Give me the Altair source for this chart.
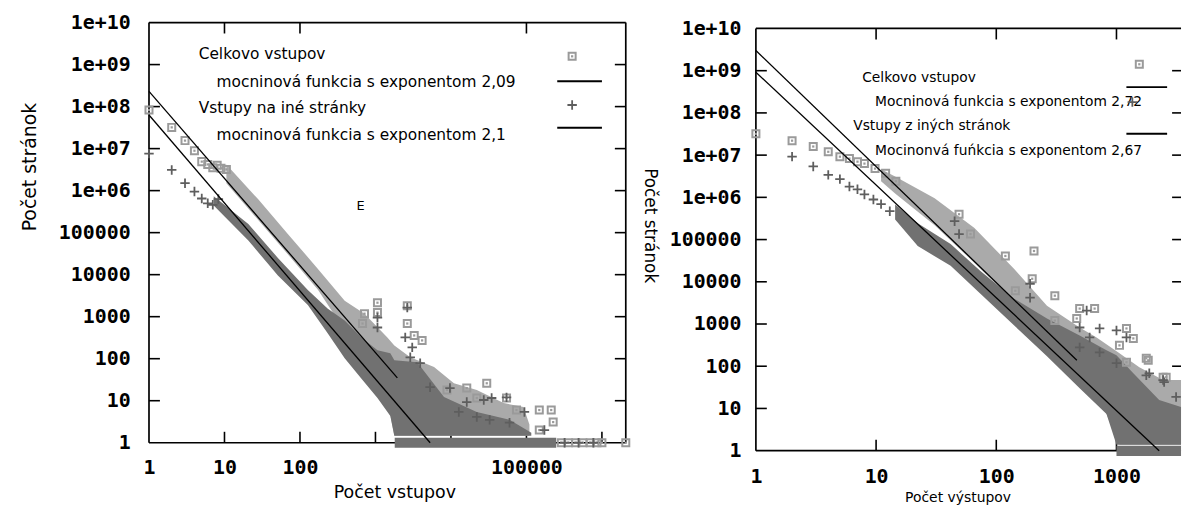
import altair as alt
import pandas as pd

SANS = "DejaVu Sans"
MONO = "DejaVu Sans Mono"
LIGHT_FILL = "#aaaaaa"
DARK_FILL = "#717171"
SQ_COL = "#9a9a9a"
PLUS_COL = "#5e5e5e"
PLUS = "M-1,0L1,0M0,-1L0,1"

y_decades = [1, 10, 100, 1000, 10000, 100000, 1e6, 1e7, 1e8, 1e9, 1e10]
inner_decades = y_decades[1:-1]

# ================= LEFT PANEL DATA =================
L_W, L_H = 480, 423
L_XMAX = 2.07e6
L_YTOP = 1e10
l_xlabels = [1, 10, 100, 100000]
l_xticks_bottom = [10, 100, 1000, 10000, 100000, 1000000]
l_xticks_top = [10, 100, 100000]

l_tot_x = [1, 2, 3, 4, 5, 6, 7, 8, 9, 10.6]
l_tot_y = [8.3e7, 3.2e7, 1.55e7, 8.9e6, 4.9e6, 4.2e6, 3.5e6, 4.0e6, 3.4e6, 3.2e6]
l_in_x = [1, 2, 3, 4, 5, 6, 7, 8.3]
l_in_y = [7.6e6, 3.1e6, 1.5e6, 9.5e5, 6.5e5, 5.0e5, 4.6e5, 6.3e5]

l_tot_band_x = [10.6, 28, 69.5, 173, 391, 716, 1438, 1778, 2890, 5970, 10950, 22000, 49800, 91400, 109500]
l_tot_band_top = [4.16e6, 6.2e5, 9.2e4, 1.37e4, 2400, 1180, 321, 207, 108, 63, 26, 18, 8.8, 7.1, 2.7]
l_tot_band_bot = [1.5e6, 2.0e5, 3.0e4, 4400, 469, 92, 10.4, 1.46, 1.46, 1.46, 1.46, 1.46, 1.46, 1.46, 1.46]

l_in_band_x = [7.2, 20.7, 51, 127, 234, 391, 674, 1063, 1575, 1778, 3570, 8090, 21980, 59700, 116000]
l_in_band_top = [7.3e5, 1.6e5, 2.5e4, 4300, 1550, 809, 304, 158, 134, 92, 82, 12.2, 5.4, 3.5, 1.72]
l_in_band_bot = [4.4e5, 6.5e4, 9500, 1900, 398, 102, 31, 11.6, 4.35, 1.46, 1.46, 1.46, 1.46, 1.46, 1.46]

l_row_x0, l_row_x1 = 1800, 2.48e5
l_row_y0, l_row_y1 = 0.76, 1.31
l_row_sq_x = [2.9e5, 3.6e5, 4.5e5, 5.6e5, 7.0e5, 8.6e5, 1.0e6, 2.07e6]
l_row_plus_x = [3.2e5, 4.9e5, 7.7e5]

l_tail_sq_x = [1063, 1063, 716, 674, 2640, 2640, 3260, 4150, 16200, 29800, 148000, 213000, 226000, 148000, 73800, 54500, 8860, 22000]
l_tail_sq_y = [2150, 1250, 1180, 687, 1830, 687, 357, 272, 20, 26, 6, 6, 3.1, 2, 6, 11.6, 18, 11.6]
l_tail_plus_x = [1063, 1063, 2640, 2480, 3070, 2890, 3910, 5290, 9700, 12700, 16200, 27200, 34600, 54500, 94100, 173000, 22000, 32600, 59700]
l_tail_plus_y = [952, 552, 1640, 321, 186, 108, 78, 21, 20, 5.4, 9.3, 10.4, 11.6, 12, 5.4, 2, 4.1, 3.5, 3]

l_fit1_x, l_fit1_y = [1, 1950], [2.3e8, 35]
l_fit2_x, l_fit2_y = [1, 5300], [6.3e7, 1]

l_legend = ["Celkovo vstupov", "mocninová funkcia s exponentom 2,09",
            "Vstupy na iné stránky", "mocninová funkcia s exponentom 2,1"]

# ================= RIGHT PANEL DATA =================
R_W, R_H = 428, 431
R_XMAX = 3444
R_YMAX = 1.38e10
r_xlabels = [1, 10, 100, 1000]
r_xticks = [10, 100, 1000]

r_tot_x = [1, 2, 3, 4, 5, 6, 7, 8, 9.8, 12, 14.6]
r_tot_y = [3.2e7, 2.2e7, 1.6e7, 1.2e7, 9.2e6, 8.3e6, 7.0e6, 6.3e6, 4.8e6, 3.7e6, 2.4e6]
r_in_x = [2, 3, 4, 5, 6, 7, 8, 9.5, 11, 13]
r_in_y = [9.2e6, 5.4e6, 3.4e6, 2.7e6, 1.8e6, 1.55e6, 1.17e6, 8.9e5, 6.9e5, 4.7e5]

r_tot_band_x = [11, 14.4, 30.7, 65.8, 141, 264, 494, 683, 1059, 1549, 2445, 3444]
r_tot_band_top = [4.6e6, 3.1e6, 9.5e5, 1.87e5, 2.02e4, 2720, 827, 481, 202, 95, 47, 47]
r_tot_band_bot = [2.4e6, 1.24e6, 2.19e5, 2.8e4, 3380, 409, 80, 27, 1.38, 1.38, 1.38, 1.38]

r_in_band_x = [14.4, 22.2, 41.7, 73.8, 141, 264, 494, 826, 1000, 1381, 2266, 3444]
r_in_band_top = [6.8e5, 2.45e5, 7.8e4, 1.8e4, 3980, 1350, 536, 238, 182, 68, 15.8, 10.8]
r_in_band_bot = [3.0e5, 7.0e4, 2.4e4, 5200, 920, 172, 30, 7.4, 1.38, 1.38, 1.38, 1.38]

r_row_x0, r_row_x1 = 1000, 3444
r_row_y0, r_row_y1 = 0.75, 1.3

r_tail_sq_x = [49, 61, 119, 144, 206, 199, 307, 307, 494, 658, 467, 1211, 1059, 1381, 1211, 1837, 2590, 1770, 2445]
r_tail_sq_y = [3.98e5, 1.35e5, 4.09e4, 6140, 5.36e4, 1.18e4, 4690, 1210, 2320, 2320, 1350, 784, 312, 456, 124, 138, 55, 154, 55]
r_tail_plus_x = [45, 49, 191, 191, 565, 494, 598, 724, 1000, 1211, 1000, 1770, 2492, 3133, 494, 724, 1875, 2445]
r_tail_plus_y = [2.72e5, 1.35e5, 8980, 4200, 2080, 827, 481, 784, 703, 481, 118, 61, 42, 18.7, 280, 213, 68, 47]

r_fit1_x, r_fit1_y = [1, 468], [3.0e9, 138]
r_fit2_x, r_fit2_y = [1, 2266], [9.2e8, 1]

r_legend = ["Celkovo vstupov", "Mocninová funkcia s exponentom 2,72",
            "Vstupy z iných stránok", "Mocinonvá fuńkcia s exponentom 2,67"]

ONE = pd.DataFrame({"a": [0]})
Y_LABEL_EXPR = ("datum.value >= 1000000 ? '1e+' + (datum.value < 5e9 ? '0' : '') + "
                "round(log(datum.value) / LN10) : format(datum.value, 'd')")
SQ_SIZE = 50


class Panel:
    def __init__(self, xsc, ysc, xa, ya):
        self.xsc, self.ysc, self.xa, self.ya = xsc, ysc, xa, ya

    def X(self, f):
        return alt.X(f"{f}:Q", scale=self.xsc, axis=self.xa)

    def Y(self, f):
        return alt.Y(f"{f}:Q", scale=self.ysc, axis=self.ya)

    def border(self, xmax, ytop, right):
        rows = [dict(x=1, x2=xmax, y=1, y2=1), dict(x=1, x2=xmax, y=ytop, y2=ytop),
                dict(x=1, x2=1, y=1, y2=ytop)]
        if right:
            rows.append(dict(x=xmax, x2=xmax, y=1, y2=ytop))
        return alt.Chart(pd.DataFrame(rows)).mark_rule(color="black", strokeWidth=1.7).encode(
            x=self.X("x"), x2="x2:Q", y=self.Y("y"), y2="y2:Q")

    def vticks(self, vals, y0, y1):
        return alt.Chart(pd.DataFrame({"x": vals})).mark_rule(color="black", strokeWidth=1.6).encode(
            x=self.X("x"), y=alt.value(y0), y2=alt.value(y1))

    def hticks(self, vals, x0, x1):
        return alt.Chart(pd.DataFrame({"y": vals})).mark_rule(color="black", strokeWidth=1.6).encode(
            y=self.Y("y"), x=alt.value(x0), x2=alt.value(x1))

    def squares(self, xs, ys):
        df = pd.DataFrame({"x": xs, "y": ys})
        box = alt.Chart(df).mark_point(shape="square", filled=False, color=SQ_COL, strokeWidth=2,
                                       size=SQ_SIZE, opacity=1).encode(x=self.X("x"), y=self.Y("y"))
        dot = alt.Chart(df).mark_point(shape="square", filled=True, color=SQ_COL, size=5,
                                       opacity=1).encode(x=self.X("x"), y=self.Y("y"))
        return [box, dot]

    def pluses(self, xs, ys):
        df = pd.DataFrame({"x": xs, "y": ys})
        return alt.Chart(df).mark_point(shape=PLUS, filled=False, color=PLUS_COL, strokeWidth=1.8,
                                        size=90, opacity=1).encode(x=self.X("x"), y=self.Y("y"))

    def band(self, xs, top, bot, color):
        df = pd.DataFrame({"x": xs, "top": top, "bot": bot})
        return alt.Chart(df).mark_area(color=color, opacity=1).encode(
            x=self.X("x"), y=self.Y("top"), y2="bot:Q")

    def row_rect(self, x0, x1, y0, y1):
        df = pd.DataFrame({"x0": [x0], "x1": [x1], "y0": [y0], "y1": [y1]})
        return alt.Chart(df).mark_rect(color=DARK_FILL).encode(
            x=self.X("x0"), x2="x1:Q", y=self.Y("y0"), y2="y1:Q")

    def fit_line(self, xs, ys):
        df = pd.DataFrame({"x": xs, "y": ys})
        return alt.Chart(df).mark_line(color="black", strokeWidth=1.3).encode(
            x=self.X("x"), y=self.Y("y"))


def legend(labels, tx, ty, fs, sq, ln1, pl, ln2):
    out = []
    for s, x, y in zip(labels, tx, ty):
        out.append(alt.Chart(pd.DataFrame({"t": [s]})).mark_text(
            align="left", baseline="alphabetic", font=SANS, fontSize=fs, color="black").encode(
            x=alt.value(x), y=alt.value(y), text="t:N"))
    out.append(alt.Chart(ONE).mark_point(shape="square", filled=False, color=SQ_COL, strokeWidth=2,
                                         size=SQ_SIZE, opacity=1).encode(x=alt.value(sq[0]), y=alt.value(sq[1])))
    out.append(alt.Chart(ONE).mark_point(shape="square", filled=True, color=SQ_COL, size=5,
                                         opacity=1).encode(x=alt.value(sq[0]), y=alt.value(sq[1])))
    out.append(alt.Chart(ONE).mark_point(shape=PLUS, filled=False, color=PLUS_COL, strokeWidth=1.8,
                                         size=90, opacity=1).encode(x=alt.value(pl[0]), y=alt.value(pl[1])))
    for a, b, c in (ln1, ln2):
        out.append(alt.Chart(ONE).mark_rule(color="black", strokeWidth=2).encode(
            x=alt.value(a), x2=alt.value(b), y=alt.value(c)))
    return out


def axis_common():
    return dict(domain=False, ticks=False, tickSize=0, grid=False, labelFont=MONO, labelFontSize=20,
                labelFontWeight="bold", labelColor="black", labelFlush=False, labelOverlap=False,
                titleFont=SANS, titleFontWeight="normal", titleColor="black", titleAlign="center",
                titleBaseline="middle")


# ---------------- LEFT ----------------
lx = alt.Scale(type="log", domain=[1, L_XMAX], nice=False)
ly = alt.Scale(type="log", domain=[1, L_YTOP], nice=False)
l_xaxis = alt.Axis(values=l_xlabels, format="d", labelPadding=15, title="Počet vstupov",
                   titleFontSize=17.5, titleX=247, titleY=50, **axis_common())
l_yaxis = alt.Axis(values=y_decades, labelExpr=Y_LABEL_EXPR, labelPadding=19, title="Počet stránok",
                   titleFontSize=19, titleX=-120, titleY=145, titleAngle=270, **axis_common())
LP = Panel(lx, ly, l_xaxis, l_yaxis)

left_layers = [LP.border(L_XMAX, L_YTOP, True),
               LP.vticks(l_xticks_bottom, L_H, L_H - 11),
               LP.vticks(l_xticks_top, 0, 11),
               LP.hticks(inner_decades, 0, 11),
               LP.hticks(inner_decades, L_W - 11, L_W),
               LP.band(l_tot_band_x, l_tot_band_top, l_tot_band_bot, LIGHT_FILL),
               LP.band(l_in_band_x, l_in_band_top, l_in_band_bot, DARK_FILL),
               LP.row_rect(l_row_x0, l_row_x1, l_row_y0, l_row_y1)]
left_layers += LP.squares(l_tot_x, l_tot_y)
left_layers += LP.squares(l_tail_sq_x, l_tail_sq_y)
left_layers += LP.squares(l_row_sq_x, [1] * len(l_row_sq_x))
left_layers += [LP.pluses(l_in_x, l_in_y), LP.pluses(l_tail_plus_x, l_tail_plus_y),
                LP.pluses(l_row_plus_x, [1] * len(l_row_plus_x)),
                LP.fit_line(l_fit1_x, l_fit1_y), LP.fit_line(l_fit2_x, l_fit2_y)]
left_layers += legend(l_legend, [50, 68, 50, 68], [37, 65, 91, 118], 15.5,
                      (426, 34), (411, 456, 59), (426, 83), (411, 456, 106))
left_layers.append(alt.Chart(pd.DataFrame({"t": ["E"]})).mark_text(
    font=SANS, fontSize=13, color="black").encode(x=alt.value(213), y=alt.value(185), text="t:N"))

left = alt.layer(*left_layers).properties(width=L_W, height=L_H)

# ---------------- RIGHT ----------------
rx = alt.Scale(type="log", domain=[1, R_XMAX], nice=False)
ry = alt.Scale(type="log", domain=[1, R_YMAX], nice=False)
r_xaxis = alt.Axis(values=r_xlabels, format="d", labelPadding=16, title="Počet výstupov",
                   titleFontSize=14, titleX=203, titleY=47, **axis_common())
r_yaxis = alt.Axis(values=y_decades, labelExpr=Y_LABEL_EXPR, labelPadding=15, title="Počet stránok",
                   titleFontSize=17, titleX=-107, titleY=204, titleAngle=90, **axis_common())
RP = Panel(rx, ry, r_xaxis, r_yaxis)

right_layers = [RP.border(R_XMAX, 1e10, False),
                RP.vticks(r_xticks, R_H, R_H - 11),
                RP.vticks(r_xticks, 6, 17),
                RP.hticks(inner_decades, 0, 11),
                RP.hticks(inner_decades, R_W - 9, R_W),
                RP.band(r_tot_band_x, r_tot_band_top, r_tot_band_bot, LIGHT_FILL),
                RP.band(r_in_band_x, r_in_band_top, r_in_band_bot, DARK_FILL),
                RP.row_rect(r_row_x0, r_row_x1, r_row_y0, r_row_y1)]
right_layers += RP.squares(r_tot_x, r_tot_y)
right_layers += RP.squares(r_tail_sq_x, r_tail_sq_y)
right_layers += [RP.pluses(r_in_x, r_in_y), RP.pluses(r_tail_plus_x, r_tail_plus_y),
                 RP.fit_line(r_fit1_x, r_fit1_y), RP.fit_line(r_fit2_x, r_fit2_y)]
right_layers += legend(r_legend, [107, 120, 98, 120], [60, 84, 108, 133], 13.9,
                       (386, 42), (373, 414, 65), (379, 80), (373, 414, 112))

right = alt.layer(*right_layers).properties(width=R_W, height=R_H)

chart = alt.hconcat(left, right, spacing=6).properties(
    padding={"left": 20, "top": 10, "right": 0, "bottom": 0}, background="white"
).configure_view(stroke="transparent")

chart.save("out.html", embed_options={"renderer": "svg", "actions": False})
